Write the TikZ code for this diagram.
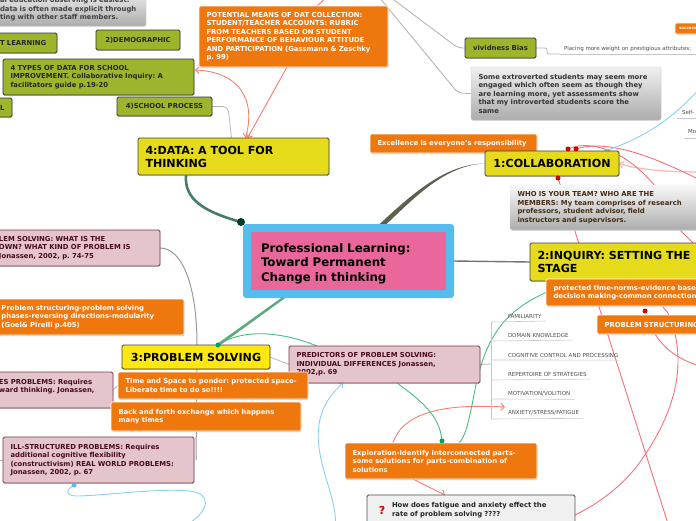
\documentclass[tikz,border=0pt]{standalone}
\usepackage{fontspec}
\setmainfont{DejaVu Sans}
\usetikzlibrary{shadows,backgrounds,calc,arrows.meta}
\definecolor{ogreen}{HTML}{9DB52C}
\definecolor{oorange}{HTML}{EF780E}
\definecolor{oyellow}{HTML}{E6DB1A}
\definecolor{opink}{HTML}{E4C5CC}
\definecolor{oborder}{HTML}{7A3A48}
\definecolor{opinktext}{HTML}{4A0A20}
\definecolor{ored}{HTML}{F4717A}
\definecolor{osalmon}{HTML}{F87C70}
\definecolor{ogrn}{HTML}{46BE80}
\definecolor{oblue}{HTML}{88CFF3}
\definecolor{ogray}{HTML}{B5B5B5}
\definecolor{tealb}{HTML}{4A7A6A}
\definecolor{oliveb}{HTML}{5F5F50}
\definecolor{greenb}{HTML}{5CAA7D}
\tikzset{
  base/.style={anchor=north west,align=left,inner xsep=7.5pt,inner ysep=0pt,outer sep=0pt,rounded corners=1.5pt,font=\frenchspacing\bfseries\fontsize{6.85}{8.5}\selectfont},
  greenbox/.style={base,fill=ogreen,draw=black!80,line width=.8pt,text=black!85,drop shadow={shadow xshift=.4pt,shadow yshift=-.8pt,fill=black!35}},
  orangebox/.style={base,fill=oorange,draw=white,line width=.6pt,text=white,drop shadow={shadow xshift=.6pt,shadow yshift=-1.2pt,fill=black!35}},
  pinkbox/.style={base,fill=opink,draw=oborder,line width=.9pt,text=opinktext,drop shadow={shadow xshift=.4pt,shadow yshift=-.8pt,fill=black!35}},
  graybox/.style={base,top color=gray!12,bottom color=gray!65,draw=gray!40,line width=.4pt,text=black!80,drop shadow={shadow xshift=.4pt,shadow yshift=-.8pt,fill=black!25}},
  yellowbox/.style={base,fill=oyellow,draw=black!75,line width=.9pt,text=black,font=\bfseries\fontsize{11.1}{13}\selectfont,drop shadow={shadow xshift=.4pt,shadow yshift=-.8pt,fill=black!35}},
  leaf/.style={anchor=west,inner sep=0pt,outer sep=0pt,text=black!70,font=\fontsize{5.5}{6}\selectfont},
  underl/.style={draw=black!22,line width=.6pt},
  branch/.style={draw=ogray,line width=.8pt,rounded corners=5pt},
  redline/.style={draw=ored,line width=.9pt},
  salmon/.style={draw=osalmon,line width=.9pt,>={Straight Barb[length=3.5pt,width=7pt]}},
  grnline/.style={draw=ogrn,line width=.9pt},
  blueline/.style={draw=oblue,line width=.9pt,>={Straight Barb[length=3.5pt,width=7pt]}},
  dotmark/.style={circle,inner sep=0pt,outer sep=0pt,minimum size=#1},
}
\begin{document}
\begin{tikzpicture}[x=1pt,y=-1pt]
\useasboundingbox (0,0) rectangle (696,520);
\clip (0,0) rectangle (696,520);

% ---------- top-left group
\node[graybox,minimum width=156pt,minimum height=36pt,text width=141pt,text=black!75] (topgray) at (-10,-10) {\\[-1pt]\hspace*{2.5pt}al education observing is easiest:\\\hspace*{2.5pt}data is often made explicit through\\\hspace*{2.5pt}ting with other staff members.};
\node[greenbox,minimum width=67pt,minimum height=20pt,text width=52pt] (tlearn) at (-10,33) {\hspace*{2.5pt}T LEARNING};
\node[greenbox,minimum width=84pt,minimum height=20pt,text width=69pt,align=center] (demo) at (96,30) {2)DEMOGRAPHIC};
\node[greenbox,minimum width=191pt,minimum height=36pt,text width=176pt] (types) at (3,59) {4 TYPES OF DATA FOR SCHOOL\\IMPROVEMENT. Collaborative Inquiry: A\\facilitators guide p.19-20};
\node[greenbox,minimum width=22pt,minimum height=19pt,text width=7pt] (lbox) at (-10,98) {\hspace*{2.5pt}L};
\node[greenbox,minimum width=95pt,minimum height=19pt,text width=80pt,align=center] (school) at (117,97) {4)SCHOOL PROCESS};
\node[orangebox,minimum width=189pt,minimum height=61pt,text width=174pt] (means) at (199,6) {POTENTIAL MEANS OF DAT COLLECTION:\\STUDENT/TEACHER ACCOUNTS: RUBRIC\\FROM TEACHERS BASED ON STUDENT\\PERFORMANCE OF BEHAVIOUR ATTITUDE\\AND PARTICIPATION (Gassmann \& Zeschky\\p. 99)};
\node[yellowbox,minimum width=191pt,minimum height=37pt,text width=176pt] (data) at (138,138) {4:DATA: A TOOL FOR\\THINKING};

% ---------- central topic
\node[base,draw=none,minimum width=211pt,minimum height=74pt,rounded corners=3pt,fill={rgb,255:red,85;green,188;blue,238}] (center) at (243,224) {};
\node[base,fill={rgb,255:red,233;green,103;blue,154},minimum width=195pt,minimum height=58pt,rounded corners=0pt,text width=175pt,inner xsep=10pt,text=black,font=\bfseries\fontsize{11.8}{14.5}\selectfont] (title) at (251,232) {\rule{0pt}{14pt}Professional Learning:\\Toward Permanent\\Change in thinking};

% ---------- top-right group
\node[greenbox,minimum width=71pt,minimum height=20pt,text width=56pt,align=center] (vivid) at (465,38) {vividness Bias};
\node[graybox,minimum width=190pt,minimum height=53pt,text width=175pt] (extro) at (471,67) {Some extroverted students may seem more\\engaged which often seem as though they\\are learning more, yet assessments show\\that my introverted students score the\\same};
\node[orangebox,minimum width=167pt,minimum height=19pt,text width=152pt] (excel) at (370,134) {Excellence is everyone's responsibility};
\node[yellowbox,minimum width=134pt,minimum height=25pt,text width=119pt,align=center] (collab) at (485,151) {1:COLLABORATION};
\node[graybox,minimum width=220pt,minimum height=45pt,text width=205pt,text=black!65!brown,top color=gray!5,draw=gray!20] (team) at (510,185) {WHO IS YOUR TEAM? WHO ARE THE\\MEMBERS: My team comprises of research\\professors, student advisor, field\\instructors and supervisors.};
\node[yellowbox,minimum width=190pt,minimum height=38pt,text width=175pt] (inquiry) at (530,243) {2:INQUIRY: SETTING THE\\STAGE};
\node[orangebox,minimum width=190pt,minimum height=27pt,text width=175pt] (norms) at (546,279) {protected time-norms-evidence based\\decision making-common connections};
\node[orangebox,minimum width=130pt,minimum height=19pt,text width=115pt] (struct) at (597,315) {PROBLEM STRUCTURING};
\node[orangebox,inner xsep=4pt,minimum width=26pt,minimum height=11pt,text width=30pt,font=\bfseries\fontsize{4}{5}\selectfont] (succ) at (675,23) {success};

% ---------- problem-solving group
\node[pinkbox,minimum width=170pt,minimum height=36pt,text width=155pt] (whatis) at (-10,230) {\hspace*{1.5pt}LEM SOLVING: WHAT IS THE\\\hspace*{1.5pt}OWN? WHAT KIND OF PROBLEM IS\\\hspace*{1.5pt}Jonassen, 2002, p. 74-75};
\node[orangebox,minimum width=194pt,minimum height=36pt,text width=179pt] (phases) at (-10,299) {\hspace*{4pt}Problem structuring-problem solving\\\hspace*{4pt}phases-reversing directions-modularity\\\hspace*{4pt}(Goel\& Pirelli p.405)};
\node[yellowbox,fill={rgb,255:red,255;green,232;blue,15},minimum width=148pt,minimum height=24pt,text width=133pt,align=center] (ps) at (122,345) {3:PROBLEM SOLVING};
\node[pinkbox,minimum width=191pt,minimum height=37pt,text width=176pt] (pred) at (289,346) {PREDICTORS OF PROBLEM SOLVING:\\INDIVIDUAL DIFFERENCES Jonassen,\\2002,p. 69};
\node[pinkbox,minimum width=123pt,minimum height=36pt,text width=108pt] (wellp) at (-10,372) {\hspace*{1.5pt}ES PROBLEMS: Requires\\\hspace*{1.5pt}ward thinking. Jonassen,\\\mbox{}};
\node[orangebox,minimum width=190pt,minimum height=27pt,text width=175pt] (tspace) at (118,372) {Time and Space to ponder: protected space-\\Liberate time to do so!!!!};
\node[orangebox,minimum width=190pt,minimum height=29pt,text width=175pt] (forth) at (111,402) {Back and forth exchange which happens\\many times};
\node[pinkbox,minimum width=191pt,minimum height=46pt,text width=176pt] (ill) at (3,437) {ILL-STRUCTURED PROBLEMS: Requires\\additional cognitive flexibility\\(constructivism) REAL WORLD PROBLEMS:\\Jonassen, 2002, p. 67};
\node[orangebox,minimum width=192pt,minimum height=36pt,text width=177pt] (explore) at (345,443) {Exploration-identify interconnected parts-\\some solutions for parts-combination of\\solutions};
\node[base,fill=black!6,draw=black!70,line width=.9pt,minimum width=208pt,minimum height=40pt,text width=208pt,inner xsep=0pt,text=black!85,text depth=20pt] (fatigue) at (367,495) {\hspace*{25pt}How does fatigue and anxiety effect the\\\hspace*{25pt}rate of problem solving ????};
\node[anchor=center,inner sep=0pt,text=red!80!black,font=\bfseries\fontsize{11}{11}\selectfont] (qmark) at (382,510) {?};

% ---------- leaves
\node[leaf] (l1) at (508,316) {FAMILIARITY};
\node[leaf] (l2) at (508,335) {DOMAIN KNOWLEDGE};
\node[leaf] (l3) at (508,355) {COGNITIVE CONTROL AND PROCESSING};
\node[leaf] (l4) at (508,374) {REPERTOIRE OF STRATEGIES};
\node[leaf] (l5) at (508,394) {MOTIVATION/VOLITION};
\node[leaf] (l6) at (508,413) {ANXIETY/STRESS/FATIGUE};
\node[leaf] (place) at (564,49) {Placing more weight on prestigious attributes:};
\node[leaf] (self) at (682,112) {Self-};
\node[leaf] (mo) at (688,132) {Mo};

\coordinate (topA) at (390,-3);
\coordinate (topB) at (379,-3);
\coordinate (topR) at (327,-3);
\coordinate (blueOut) at (700,88);
\coordinate (red1Out) at (700,180);
\coordinate (red2Out) at (700,250);
\coordinate (red3Out) at (670,530);
\coordinate (blue1Out) at (187,525);
\coordinate (blue2Out) at (335,525);
\coordinate (strOut) at (700,366);
\coordinate (arrIn) at (700,172);

\begin{scope}[on background layer]
  % main branches
  \draw[line width=2.6pt,color=tealb] ($(center.north west)+(-2,-2)$) .. controls (205,212) and (184,200) .. ($(data.south west)+(48,0)$);
  \fill[oliveb] ($(center.north)+(29,2)$) .. controls (412,194) and (445,164) .. (collab.west) .. controls (446,165) and (416,196) .. ($(center.north)+(36,2)$) -- cycle;
  \draw[line width=1.4pt,color=black!55] (center.east) -- (inquiry.west);
  \fill[greenb] ($(center.south west)+(41,-2)$) -- ($(center.south west)+(45,-2)$) -- ($(ps.north west)+(97,1)$) -- ($(ps.north west)+(95,-1)$) -- cycle;
  % grey branches
  \draw[branch] (school.east) -- ($(school.east)+(16,0)$) -- ($(data.north)+(-2,0)$);
  \draw[branch,line width=1pt,rounded corners=0pt,color=black!40] (whatis.east) .. controls (182,248) and (197,285) .. (197,345);
  \draw[branch,line width=1pt,rounded corners=0pt,color=black!40] (197,369) -- (196,460);
  \draw[branch] (ps.east) -- (pred.west);
  \draw[branch] (wellp.east) -- (tspace.west);
  \draw[branch] (0,460) -- (ill.west);
  \draw[branch] (pred.east) -- (491,364);
  \draw[branch,line width=.9pt] (topA) -- (458,48) -- (vivid.west);
  \draw[branch,line width=.9pt] (topB) -- (458,93) -- (extro.west);
  \draw[branch,rounded corners=2pt] (vivid.east) -- (547,48) -- (547,54) -- (560,54);
  % red connectors
  \draw[salmon,->] ($(means.south west)+(88,0)$) -- ($(data.north)+(14,0)$);
  \draw[salmon] (topR) -- ($(means.north west)+(118,0)$);
  \draw[salmon,<->] ($(types.north east)+(1,11)$) .. controls (240,72) and (256,100) .. ($(data.north)+(12,0)$);
  \draw[salmon,->] ($(explore.north west)+(48,0)$) .. controls (405,405) and (465,405) .. (505,407);
  \draw[salmon,->] ($(explore.south west)+(68,0)$) -- ($(fatigue.north west)+(78,0)$);
  \draw[salmon,->,line width=1.2pt,draw=osalmon!55] (arrIn) .. controls (670,172) and (640,170) .. (collab.east);
  \draw[redline] ($(collab.north west)+(83,-2)$) .. controls (600,135) and (655,165) .. (680,230) -- (red2Out);
  \draw[redline] ($(collab.north west)+(91,-2)$) .. controls (610,138) and (660,160) .. (red1Out);
  \draw[redline] ($(collab.south west)+(73,2)$) -- (red3Out);
  \draw[redline] (663,307) -- (668,313) .. controls (682,345) and (688,395) .. (640,462) .. controls (620,490) and (590,508) .. (fatigue.east);
  \draw[redline] ($(struct.south west)+(58,0)$) .. controls (665,350) and (680,360) .. (strOut);
  % green connectors
  \draw[grnline] ($(ps.north west)+(96,0)$) .. controls (245,327) and (285,333) .. ($(pred.north west)+(28,0)$);
  \draw[grnline] ($(pred.south west)+(108,0)$) .. controls (420,400) and (440,415) .. ($(explore.north west)+(97,-2)$);
  \draw[grnline] (norms.west) .. controls (495,315) and (482,350) .. (473,400) .. controls (468,425) and (465,437) .. ($(explore.north west)+(114,0)$);
  % blue connectors
  \draw[blueline] ($(collab.north east)+(-15,0)$) .. controls (640,140) and (672,120) .. (blueOut);
  \draw[blueline,->] (blue2Out) .. controls (340,490) and (290,430) .. ($(pred.south west)+(54,0)$);
  \draw[blueline] ($(ill.south west)+(71,2)$) .. controls (68,488) and (62,496) .. (78,496) .. controls (110,495) and (160,488) .. (190,491) .. controls (212,494) and (210,510) .. (blue1Out);
  % leaf bracket
  \draw[underl] (491,322) -- (491,419);
  \draw[underl] (491,322) -- ($(l1.south east)+(4,3)$);
  \draw[underl] (491,341) -- ($(l2.south east)+(4,3)$);
  \draw[underl] (491,360) -- ($(l3.south east)+(1,3)$);
  \draw[underl] (491,380) -- ($(l4.south east)+(4,3)$);
  \draw[underl] (491,399) -- ($(l5.south east)+(4,3)$);
  \draw[underl] (491,419) -- ($(l6.south east)+(4,3)$);
  \draw[underl] (560,54) -- (696,54);
  \draw[underl] (677,118) -- (696,118);
  \draw[underl] (684,138) -- (696,138);
\end{scope}

% ---------- attachment dots
\node[dotmark=8pt,fill={rgb,255:red,0;green,60;blue,44}] (d1) at ($(center.north west)+(-2,-2)$) {};
\node[dotmark=5pt,fill={rgb,255:red,0;green,165;blue,85}] (d2) at ($(ps.north west)+(96,0)$) {};
\node[dotmark=5pt,fill={rgb,255:red,0;green,165;blue,85}] (d3) at ($(explore.north west)+(97,-2)$) {};
\node[dotmark=5pt,fill=red!85!black] (d4) at ($(collab.north west)+(83,-2)$) {};
\node[dotmark=5pt,fill=red!85!black] (d5) at ($(collab.north west)+(91,-2)$) {};
\node[dotmark=5pt,fill=red!85!black] (d6) at ($(collab.south west)+(73,2)$) {};
\node[dotmark=5pt,fill=red!85!black] (d7) at ($(struct.north west)+(48,-4)$) {};
\node[dotmark=5pt,fill={rgb,255:red,80;green,190;blue,240}] (d8) at ($(ill.south west)+(71,2)$) {};
\end{tikzpicture}
\end{document}
